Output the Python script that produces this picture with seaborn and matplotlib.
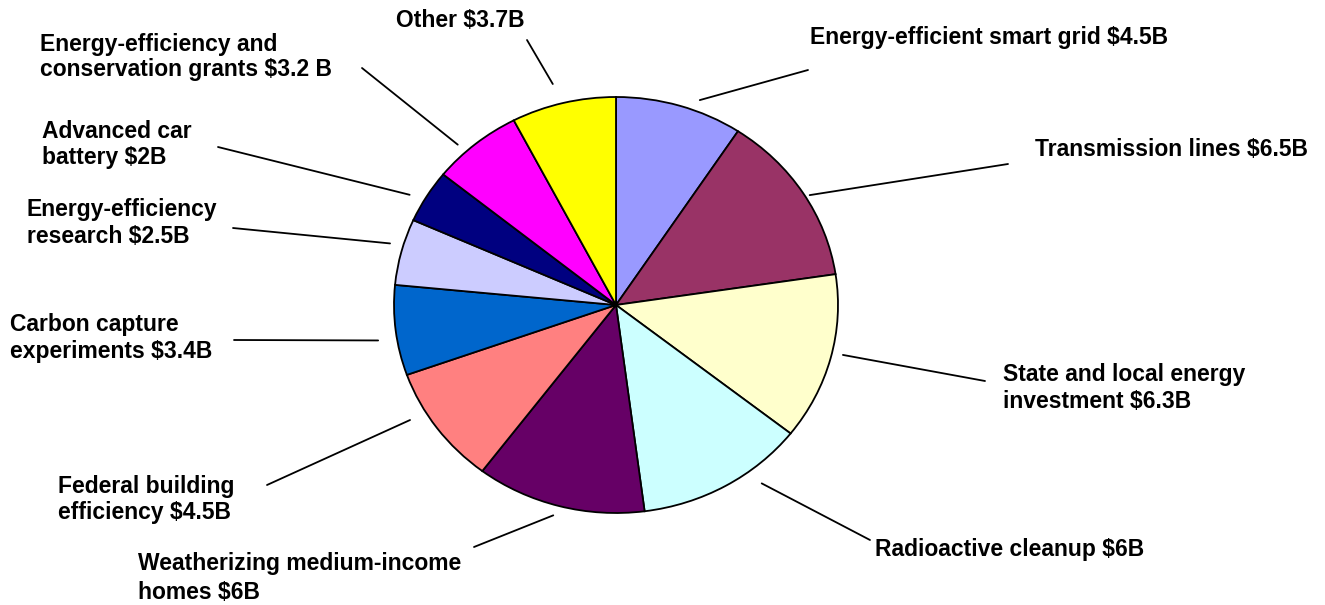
import numpy as np
import matplotlib
matplotlib.use("Agg")
import matplotlib.pyplot as plt
import seaborn as sns

# ---- data ----
labels = [
    "Energy-efficient smart grid $4.5B",
    "Transmission lines $6.5B",
    "State and local energy\ninvestment $6.3B",
    "Radioactive cleanup $6B",
    "Weatherizing medium-income\nhomes $6B",
    "Federal building\nefficiency $4.5B",
    "Carbon capture\nexperiments $3.4B",
    "Energy-efficiency\nresearch $2.5B",
    "Advanced car\nbattery $2B",
    "Energy-efficiency and\nconservation grants $3.2 B",
    "Other $3.7B",
]
values = [4.5, 6.5, 6.3, 6.0, 6.0, 4.5, 3.4, 2.5, 2.0, 3.2, 3.7]
colors = ["#9999FF", "#993366", "#FFFFCC", "#CCFFFF", "#660066", "#FF8080",
          "#0066CC", "#CCCCFF", "#000080", "#FF00FF", "#FFFF00"]

# ---- layout (pixel positions of label text and leader-line outer ends) ----
text_pos = [(810, 26), (1035, 138), (1003, 363), (875, 538), (138, 552),
            (58, 475), (10, 313), (27, 198), (42, 120), (40, 33), (396, 9)]
line_ends = [(808, 70), (1008, 164), (985, 381), (870, 540), (474, 547),
             (267, 485), (234, 340), (233, 228), (218, 147), (362, 68), (527, 40)]
angle_offsets = [-4.3, -1.4, 1.6, 7.8, -0.8, -5.5, 2.0, -1.4, 1.8, 3.5, 1.3]
leader_radius = [1.055, 1.02, 1.05, 1.08, 1.05, 1.08, 1.085, 1.06, 1.07, 1.05, 1.1]
line_spacings = [1.2, 1.2, 1.25, 1.2, 1.32, 1.15, 1.2, 1.25, 1.18, 1.1, 1.2]

W, H = 1325, 605
CX, CY, RX, RY = 616, 305, 222, 208


def to_data(px, py):
    return (px - CX) / RX, (CY - py) / RY


sns.set_theme(style="white")
plt.rcParams["font.family"] = ["Liberation Sans", "DejaVu Sans"]

fig = plt.figure(figsize=(W / 100, H / 100), dpi=100)
ax = fig.add_axes([0, 0, 1, 1])
wedges, _ = ax.pie(values, colors=colors, startangle=90, counterclock=False,
                   radius=1.0, center=(0, 0),
                   wedgeprops=dict(edgecolor="black", linewidth=1.3))
ax.set_aspect("auto")
ax.set_xlim(-CX / RX, (W - CX) / RX)
ax.set_ylim(-(H - CY) / RY, CY / RY)
ax.axis("off")

for w, lab, tp, le, ls, da, rr in zip(wedges, labels, text_pos, line_ends,
                                      line_spacings, angle_offsets, leader_radius):
    ang = np.deg2rad((w.theta1 + w.theta2) / 2 + da)
    x0, y0 = rr * np.cos(ang), rr * np.sin(ang)
    x1, y1 = to_data(*le)
    ax.plot([x0, x1], [y0, y1], color="black", linewidth=1.3, clip_on=False)
    tx, ty = to_data(*tp)
    ax.text(tx, ty, lab, ha="left", va="top", fontsize=16.5, fontweight="bold",
            color="black", linespacing=ls)

fig.savefig("out.png", dpi=100, facecolor="white")
